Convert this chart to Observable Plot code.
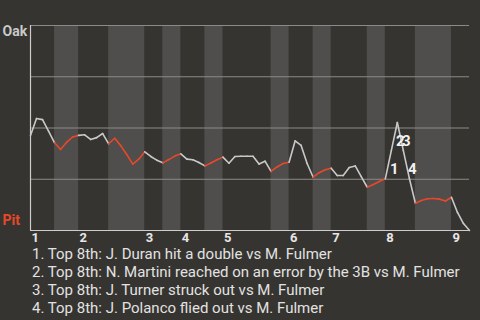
<!DOCTYPE html>
<html>
<head>
<meta charset="utf-8">
<script src="https://cdn.jsdelivr.net/npm/d3@7"></script>
<script src="https://cdn.jsdelivr.net/npm/@observablehq/plot@0.6"></script>
<style>
html, body { margin: 0; padding: 0; background: #363430; }
#wrap { width: 480px; height: 320px; overflow: hidden; }
#chart svg { display: block; }
#notes { font-family: Roboto, sans-serif; font-size: 15px; line-height: 18px; color: #e2e2e2; padding-left: 32px; white-space: nowrap; }
</style>
</head>
<body>
<div id="wrap"><div id="chart"></div><div id="notes"></div></div>
<script>
// Play index at which each half-inning begins/ends (top 1 .. top 9)
const halfBoundaries = [0, 4, 8, 13, 19, 22, 25, 29, 32, 40, 43, 47, 50, 56, 59, 64, 70, 73];
// Inning numbers labelled on the x axis (start of each top half)
const inningLabels = ["1", "2", "3", "4", "5", "6", "7", "8", "9"];
// Oak win probability after each play
const oakWinProb = [
  0.463, 0.546, 0.541, 0.485, 0.428, 0.395, 0.430, 0.456, 0.464, 0.467,
  0.444, 0.453, 0.473, 0.423, 0.450, 0.414, 0.371, 0.324, 0.348, 0.384,
  0.361, 0.343, 0.330, 0.346, 0.363, 0.374, 0.348, 0.345, 0.332, 0.315,
  0.329, 0.345, 0.358, 0.328, 0.361, 0.362, 0.362, 0.362, 0.324, 0.338,
  0.288, 0.310, 0.327, 0.333, 0.437, 0.415, 0.327, 0.260, 0.282, 0.296,
  0.304, 0.268, 0.268, 0.307, 0.315, 0.263, 0.211, 0.224, 0.239, 0.252,
  0.390, 0.527, 0.390, 0.254, 0.133, 0.146, 0.155, 0.156, 0.153, 0.144,
  0.162, 0.088, 0.034, 0.000
];
const teamNames = ["Oak", "Pit"];
const teamColors = ["#c9c9c9", "#e8482a"];
// Annotated plays (play index that the note refers to)
const notePlays = [60, 61, 62, 63];
const noteTexts = [
  "Top 8th: J. Duran hit a double vs M. Fulmer",
  "Top 8th: N. Martini reached on an error by the 3B vs M. Fulmer",
  "Top 8th: J. Turner struck out vs M. Fulmer",
  "Top 8th: J. Polanco flied out vs M. Fulmer"
];

// Build tables from the arrays
const inningStarts = halfBoundaries.filter((d, i) => i % 2 === 0 && i < halfBoundaries.length - 1);
const bands = [];
for (let h = 1; h < halfBoundaries.length - 1; h += 2) {
  bands.push({start: halfBoundaries[h], end: halfBoundaries[h + 1]});
}
function isBottom(play) {
  for (let h = 0; h < halfBoundaries.length - 1; h++) {
    if (play > halfBoundaries[h] && play <= halfBoundaries[h + 1]) return h % 2 === 1;
  }
  return false;
}
const segments = [];
for (let i = 1; i < oakWinProb.length; i++) {
  segments.push({x1: i - 1, y1: oakWinProb[i - 1], x2: i, y2: oakWinProb[i], team: isBottom(i) ? teamNames[1] : teamNames[0]});
}
const annotations = notePlays.map((p, k) => ({
  x: p - 0.5,
  y: (oakWinProb[p - 1] + oakWinProb[p]) / 2,
  label: String(k + 1)
}));

const chart = Plot.plot({
  width: 480,
  height: 245,
  marginTop: 25,
  marginBottom: 15,
  marginLeft: 30,
  marginRight: 11,
  style: {background: "transparent", fontFamily: "Roboto, sans-serif", overflow: "visible"},
  x: {domain: [0, oakWinProb.length - 1], axis: null},
  y: {domain: [0, 1], axis: null},
  color: {domain: teamNames, range: teamColors},
  marks: [
    Plot.rect(bands, {x1: "start", x2: "end", fill: "#4f4e4c"}),
    Plot.ruleY([0.25, 0.5, 0.75, 1], {stroke: "#8c8a87", strokeWidth: 1}),
    Plot.ruleY([0], {stroke: "#cdcdcd", strokeWidth: 1.2}),
    Plot.ruleX([0], {stroke: "#cdcdcd", strokeWidth: 1.2}),
    Plot.link(segments, {x1: "x1", y1: "y1", x2: "x2", y2: "y2", stroke: "team", strokeWidth: 1.6, strokeLinecap: "round"}),
    Plot.text(annotations, {x: "x", y: "y", text: "label", dx: 6, dy: 4.5, fill: "#f2f2f2", fontSize: 15, fontWeight: "bold"}),
    Plot.text([teamNames[0]], {y: [1], text: d => d, frameAnchor: "left", textAnchor: "start", lineAnchor: "top", dx: -28, dy: 1, fill: teamColors[0], fontSize: 14, fontWeight: "bold"}),
    Plot.text([teamNames[1]], {y: [0], text: d => d, frameAnchor: "left", textAnchor: "start", lineAnchor: "bottom", dx: -28, dy: -6, fill: teamColors[1], fontSize: 14, fontWeight: "bold"}),
    Plot.axisX(inningStarts, {
      tickSize: 0,
      tickPadding: 2,
      tickFormat: d => inningLabels[inningStarts.indexOf(d)],
      textAnchor: "start",
      dx: 1,
      fill: "#e6e6e6",
      fontSize: 13,
      fontWeight: "bold"
    })
  ]
});
document.getElementById("chart").appendChild(chart);

const notesDiv = document.getElementById("notes");
noteTexts.forEach((t, k) => {
  const div = document.createElement("div");
  div.textContent = (k + 1) + ". " + t;
  notesDiv.appendChild(div);
});
</script>
</body>
</html>
